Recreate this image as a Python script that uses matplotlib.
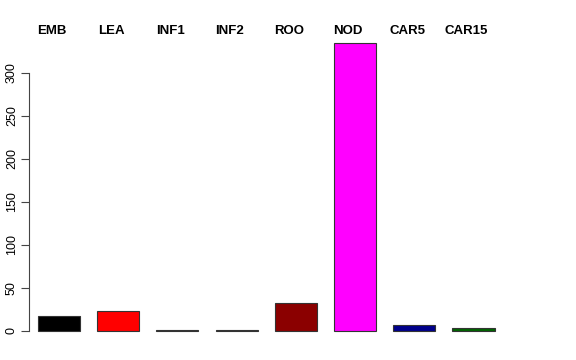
import matplotlib
matplotlib.use('Agg')
from matplotlib import pyplot as plt

# organ counts
organs = ['EMB', 'LEA', 'INF1', 'INF2', 'ROO', 'NOD', 'CAR5', 'CAR15']
counts = [17.5, 23, 0.7, 0.7, 32.5, 335, 7, 3]
colours = ['black', 'red', '#3b5a3b', '#404058', '#8b0000', 'magenta', '#00008b', '#006400']
yticks = [0, 50, 100, 150, 200, 250, 300]

plt.rcParams['font.family'] = ['Liberation Sans', 'DejaVu Sans']

fig = plt.figure(figsize=(5.76, 3.6), dpi=100)
ax = fig.add_axes([29 / 576, 17 / 360, 483 / 576, 312 / 360])

pos = range(len(organs))
ax.bar(pos, counts, width=0.71, color=colours, edgecolor='#333333', linewidth=0.8)

ax.set_xlim(-0.507, 7.65)
ax.set_ylim(-14, 348.8)

for i, name in enumerate(organs):
    ax.text(i - 0.12, 1.0, name, transform=ax.get_xaxis_transform(),
            ha='center', va='center', fontsize=9.5, fontweight='bold')

for s in ['top', 'right', 'bottom']:
    ax.spines[s].set_visible(False)
ax.spines['left'].set_bounds(0, 300)
ax.spines['left'].set_color('#444444')
ax.set_xticks([])
ax.set_yticks(yticks)
ax.set_yticklabels([str(t) for t in yticks], rotation=90, va='center', fontsize=9)
ax.tick_params(axis='y', length=6, color='#444444', pad=2)

plt.savefig('out.png', dpi=100)
